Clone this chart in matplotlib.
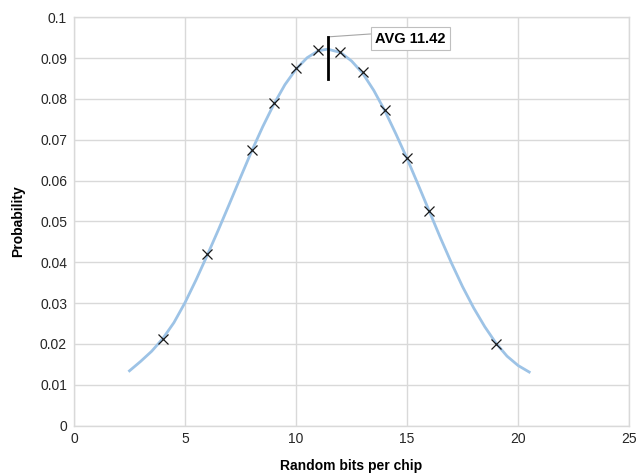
import numpy as np
import matplotlib
matplotlib.use("Agg")
import matplotlib.pyplot as plt

plt.rcParams.update({
    "font.family": ["Liberation Sans", "DejaVu Sans"],
    "font.size": 10,
})

# fitted distribution curve
curve_x = [2.5, 3.0, 3.5, 4.0, 4.5, 5.0, 5.5, 6.0, 6.5, 7.0, 7.5, 8.0, 8.5, 9.0,
           9.5, 10.0, 10.5, 11.0, 11.42, 12.0, 12.5, 13.0, 13.5, 14.0, 14.5, 15.0,
           15.5, 16.0, 16.5, 17.0, 17.5, 18.0, 18.5, 19.0, 19.5, 20.0, 20.5]
curve_y = [0.0134, 0.0157, 0.0182, 0.0213, 0.0252, 0.0301, 0.0357, 0.0417, 0.0479,
           0.0543, 0.0608, 0.0672, 0.0732, 0.0787, 0.0835, 0.0873, 0.0901, 0.0918,
           0.0922, 0.0914, 0.0893, 0.0863, 0.0821, 0.0771, 0.0714, 0.0654, 0.0590,
           0.0525, 0.0460, 0.0398, 0.0340, 0.0288, 0.0242, 0.0202, 0.0170, 0.0147,
           0.0131]

# measured points
pts_x = [4, 6, 8, 9, 10, 11, 12, 13, 14, 15, 16, 19]
pts_y = [0.0211, 0.0420, 0.0675, 0.0790, 0.0875, 0.0920, 0.0916, 0.0866,
         0.0773, 0.0655, 0.0526, 0.0199]

avg = 11.42
avg_bar = (0.0849, 0.0952)

fig = plt.figure(figsize=(6.4, 4.73), dpi=100)
ax = fig.add_axes([0.1156, 0.1004, 0.8674, 0.863])

ax.plot(curve_x, curve_y, color="#9dc3e6", linewidth=2.0, zorder=2,
        solid_joinstyle="round")
ax.plot(pts_x, pts_y, linestyle="none", marker="x", markersize=6.5,
        markeredgewidth=0.9, color="#1a1a1a", zorder=3)
ax.plot([avg, avg], avg_bar, color="black", linewidth=2.0, zorder=4)

ax.annotate(f"AVG {avg}", xy=(avg, avg_bar[1]), xytext=(16.75, 0.0948),
            textcoords="data", ha="right", va="center", fontsize=10.5,
            fontweight="bold",
            bbox=dict(boxstyle="square,pad=0.3", fc="white", ec="#bfbfbf", lw=0.8),
            arrowprops=dict(arrowstyle="-", color="#a6a6a6", lw=0.8,
                            shrinkA=0, shrinkB=0, relpos=(0, 0.85)))

ax.set_xlim(0, 25)
ax.set_ylim(0, 0.1)
ax.set_xticks(np.arange(0, 26, 5))
ax.set_yticks(np.arange(0, 0.101, 0.01))
ax.set_yticklabels(["0", "0.01", "0.02", "0.03", "0.04", "0.05", "0.06",
                    "0.07", "0.08", "0.09", "0.1"])
ax.tick_params(length=0, labelsize=10, colors="#262626", pad=5)
ax.grid(color="#d9d9d9", linewidth=1.0)
ax.set_axisbelow(True)
for s in ax.spines.values():
    s.set_color("#d9d9d9")
    s.set_linewidth(1.0)

ax.set_xlabel("Random bits per chip", fontweight="bold", fontsize=10, labelpad=9)
ax.set_ylabel("Probability", fontweight="bold", fontsize=10, labelpad=11)

fig.savefig("out.png", dpi=100)
